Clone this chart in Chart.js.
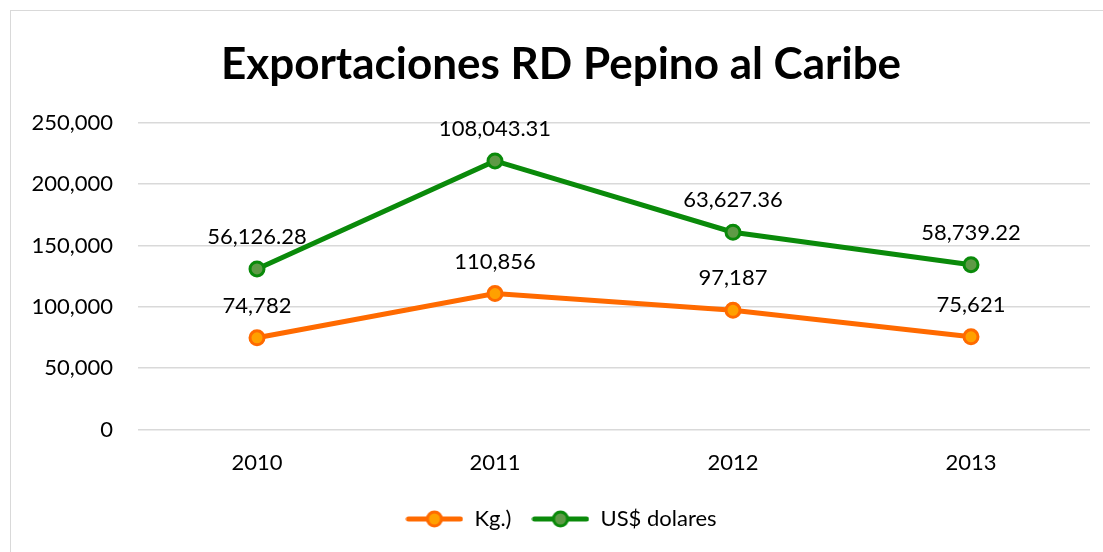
<!DOCTYPE html>
<html><head><meta charset="utf-8">
<script src="https://cdn.jsdelivr.net/npm/chart.js@4.4.1/dist/chart.umd.min.js"></script>
<style>html,body{margin:0;padding:0;background:#fff}#wrap{width:1103px;height:552px;position:relative}</style>
</head><body><div id="wrap"><canvas id="c" width="1103" height="552"></canvas></div>
<script>
const categories = ['2010', '2011', '2012', '2013'];
const kgValues = [74782, 110856, 97187, 75621];
const usdValues = [56126.28, 108043.31, 63627.36, 58739.22];
const seriesNames = ['Kg.)', 'US$ dolares'];
const yTicks = [0, 50000, 100000, 150000, 200000, 250000];
const titleText = 'Exportaciones RD Pepino al Caribe';

const FONT = 'Lato, "Open Sans", sans-serif';
const ORANGE = '#FF6A00', ORANGE_FILL = '#FFA000';
const GREEN = '#0A8A0A', GREEN_FILL = '#5E9A46';

function legendIcon(line, fill) {
  const cv = document.createElement('canvas');
  cv.width = 58; cv.height = 20;
  const x = cv.getContext('2d');
  x.strokeStyle = line; x.lineWidth = 5; x.lineCap = 'round';
  x.beginPath(); x.moveTo(3, 10); x.lineTo(55, 10); x.stroke();
  x.beginPath(); x.arc(29, 10, 7, 0, Math.PI * 2);
  x.fillStyle = fill; x.fill(); x.lineWidth = 3; x.stroke();
  return cv;
}
const icons = [legendIcon(ORANGE, ORANGE_FILL), legendIcon(GREEN, GREEN_FILL)];

const fmtInt = v => v.toLocaleString('en-US', {maximumFractionDigits: 0});
const fmtDec = v => v.toLocaleString('en-US', {minimumFractionDigits: 2, maximumFractionDigits: 2});

const borderPlugin = {
  id: 'frame',
  beforeDraw(chart) {
    const c = chart.ctx;
    c.save();
    c.fillStyle = '#fff'; c.fillRect(0, 0, chart.width, chart.height);
    c.strokeStyle = '#d9d9d9'; c.lineWidth = 1;
    c.strokeRect(10.5, 10.5, chart.width - 10, chart.height - 10);
    c.restore();
  }
};
const labelPlugin = {
  id: 'valueLabels',
  afterDatasetsDraw(chart) {
    const c = chart.ctx;
    c.save();
    c.font = '22px ' + FONT;
    c.fillStyle = '#000';
    c.textAlign = 'center';
    c.textBaseline = 'middle';
    chart.data.datasets.forEach((ds, i) => {
      const meta = chart.getDatasetMeta(i);
      meta.data.forEach((pt, j) => {
        const v = ds.data[j];
        const txt = i === 0 ? fmtInt(v) : fmtDec(v);
        c.fillText(txt, pt.x, pt.y - 32);
      });
    });
    c.restore();
  }
};

new Chart(document.getElementById('c'), {
  type: 'line',
  data: {
    labels: categories,
    datasets: [
      {label: seriesNames[0], data: kgValues, borderColor: ORANGE, backgroundColor: ORANGE_FILL,
       borderWidth: 5, pointRadius: 7, pointHoverRadius: 7, pointBorderWidth: 3,
       pointBackgroundColor: ORANGE_FILL, pointBorderColor: ORANGE, tension: 0, fill: false},
      {label: seriesNames[1], data: usdValues, borderColor: GREEN, backgroundColor: GREEN_FILL,
       borderWidth: 5, pointRadius: 7, pointHoverRadius: 7, pointBorderWidth: 3,
       pointBackgroundColor: GREEN_FILL, pointBorderColor: GREEN, tension: 0, fill: false}
    ]
  },
  options: {
    responsive: false,
    animation: false,
    layout: {padding: {left: 32, right: 13, top: 38, bottom: 12}},
    plugins: {
      title: {display: true, text: titleText, color: '#000',
        font: {family: FONT, size: 44, weight: 'bold'}, padding: {top: 0, bottom: 32}},
      legend: {position: 'bottom',
        labels: {usePointStyle: true, pointStyleWidth: 58, boxHeight: 20, color: '#000',
          font: {family: FONT, size: 22}, padding: 20,
          generateLabels(chart) {
            return chart.data.datasets.map((ds, i) => ({
              text: ds.label, pointStyle: icons[i], fillStyle: ds.backgroundColor,
              strokeStyle: ds.borderColor, lineWidth: 0, hidden: false, datasetIndex: i, fontColor: '#000'
            }));
          }}},
      tooltip: {enabled: false}
    },
    scales: {
      x: {offset: true, grid: {display: false}, border: {display: false},
        ticks: {color: '#000', font: {family: FONT, size: 22}, padding: 12}},
      y: {stacked: true, min: 0, max: 250000,
        afterBuildTicks(axis) { axis.ticks = yTicks.map(v => ({value: v})); },
        afterFit(axis) { axis.width = 106; },
        grid: {color: '#d9d9d9', lineWidth: 1.5, drawTicks: false}, border: {display: false},
        ticks: {color: '#000', font: {family: FONT, size: 22}, padding: 25,
          callback: v => fmtInt(v)}}
    }
  },
  plugins: [borderPlugin, labelPlugin]
});
</script></body></html>
